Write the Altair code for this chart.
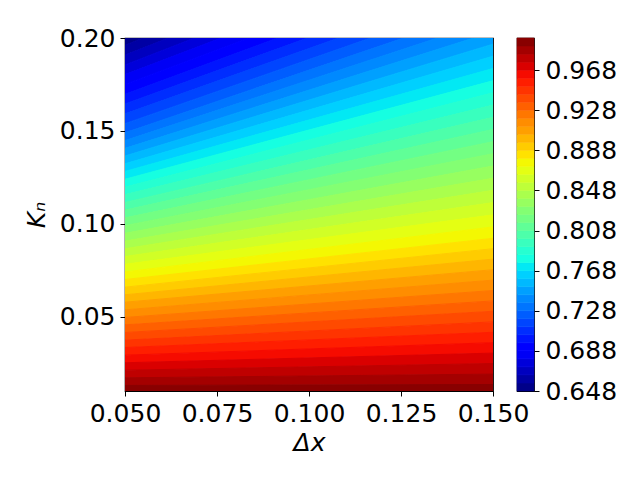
import altair as alt
import pandas as pd

# Contour levels (colorbar): 0.648 .. 1.000 step 0.008
levels = [round(0.648 + 0.008 * k, 3) for k in range(45)]
cbar_ticks = [0.648, 0.688, 0.728, 0.768, 0.808, 0.848, 0.888, 0.928, 0.968]

# Δx positions of the edges of the plot
dx_edges = [0.05, 0.15]

# Kn position of each contour level (k = 0..44) read at the left edge (Δx = 0.05)
kn_left = [0.2013, 0.1961, 0.1908, 0.1855, 0.1803, 0.1750, 0.1697, 0.1645, 0.1592, 0.1539,
           0.1490, 0.1448, 0.1406, 0.1365, 0.1323, 0.1282, 0.1240, 0.1198, 0.1157, 0.1115,
           0.1074, 0.1032, 0.0990, 0.0949, 0.0907, 0.0866, 0.0824, 0.0782, 0.0741, 0.0700,
           0.0659, 0.0618, 0.0578, 0.0537, 0.0496, 0.0456, 0.0415, 0.0374, 0.0334, 0.0293,
           0.0252, 0.0212, 0.0171, 0.0130, 0.0090]
# ... and at the right edge (Δx = 0.15)
kn_right = [0.2820, 0.2755, 0.2689, 0.2623, 0.2558, 0.2492, 0.2427, 0.2361, 0.2295, 0.2230,
            0.2164, 0.2098, 0.2033, 0.1967, 0.1902, 0.1836, 0.1770, 0.1705, 0.1639, 0.1573,
            0.1508, 0.1442, 0.1377, 0.1311, 0.1245, 0.1180, 0.1114, 0.1048, 0.0983, 0.0922,
            0.0866, 0.0810, 0.0753, 0.0697, 0.0641, 0.0585, 0.0529, 0.0472, 0.0416, 0.0360,
            0.0304, 0.0248, 0.0191, 0.0135, 0.0093]

x_ticks = [0.05, 0.075, 0.10, 0.125, 0.15]
y_ticks = [0.05, 0.10, 0.15, 0.20]


def jet(t):
    segs = {
        "r": [(0, 0), (0.35, 0), (0.66, 1), (0.89, 1), (1, 0.5)],
        "g": [(0, 0), (0.125, 0), (0.375, 1), (0.64, 1), (0.91, 0), (1, 0)],
        "b": [(0, 0.5), (0.11, 1), (0.34, 1), (0.65, 0), (1, 0)],
    }
    out = []
    for c in "rgb":
        pts = segs[c]
        v = pts[-1][1]
        for (x0, y0), (x1, y1) in zip(pts[:-1], pts[1:]):
            if x0 <= t <= x1:
                v = y0 + (y1 - y0) * (t - x0) / (x1 - x0)
                break
        out.append(int(round(v * 255)))
    return "#%02x%02x%02x" % tuple(out)


nb = len(levels) - 1
colors = []
for k in range(nb):
    t = (k + 0.5) / nb
    idx = min(int(t * 256), 255)
    colors.append(jet(idx / 255))
bands = list(range(nb))

rows = []
for k in bands:
    rows.append({"band": k, "dx": dx_edges[0], "top": kn_left[k], "bot": kn_left[k + 1]})
    rows.append({"band": k, "dx": dx_edges[1], "top": kn_right[k], "bot": kn_right[k + 1]})
df = pd.DataFrame(rows)

cbar = pd.DataFrame({"band": bands, "lo": levels[:-1], "hi": levels[1:]})

FONT = "DejaVu Sans"
W, H = 368, 353

cscale = alt.Scale(domain=bands, range=colors)

main = alt.Chart(df).mark_area(clip=True, strokeWidth=1, interpolate="linear").encode(
    x=alt.X("dx:Q", scale=alt.Scale(domain=[0.05, 0.15], nice=False, zero=False),
            axis=alt.Axis(values=x_ticks, format=".3f", title="Δx", labelFlush=False,
                          titleFontStyle="italic", titlePadding=4)),
    y=alt.Y("top:Q", scale=alt.Scale(domain=[0.01, 0.2], nice=False, zero=False),
            stack=False,
            axis=alt.Axis(values=y_ticks, format=".2f", title="Kₙ", labelFlush=False,
                          titleFontStyle="italic", titlePadding=10)),
    y2="bot:Q",
    color=alt.Color("band:N", scale=cscale, legend=None),
    stroke=alt.Stroke("band:N", scale=cscale, legend=None),
    detail="band:N",
).properties(width=W, height=H)

colorbar = alt.Chart(cbar).mark_rect(strokeWidth=0.6).encode(
    x=alt.value(0),
    x2=alt.value(17),
    y=alt.Y("lo:Q", scale=alt.Scale(domain=[0.648, 1.0], nice=False, zero=False),
            axis=alt.Axis(orient="right", values=cbar_ticks, format=".3f", title=None,
                          labelFlush=False, labelPadding=6)),
    y2="hi:Q",
    color=alt.Color("band:N", scale=cscale, legend=None),
    stroke=alt.Stroke("band:N", scale=cscale, legend=None),
).properties(width=17, height=H)

chart = alt.hconcat(main, colorbar, spacing=24, bounds="flush").properties(
    padding={"left": 15, "top": 17, "right": 5, "bottom": 5}
).configure_view(stroke="black", strokeWidth=1.2).configure_axis(
    labelFont=FONT, titleFont=FONT, labelFontSize=25, titleFontSize=25,
    labelColor="black", titleColor="black", titleFontWeight="normal",
    tickColor="black", tickSize=5, tickWidth=1, domain=False, grid=False,
    labelPadding=5,
).configure_scale(continuousPadding=0)

chart.save("out.html", embed_options={"renderer": "svg", "actions": False})
